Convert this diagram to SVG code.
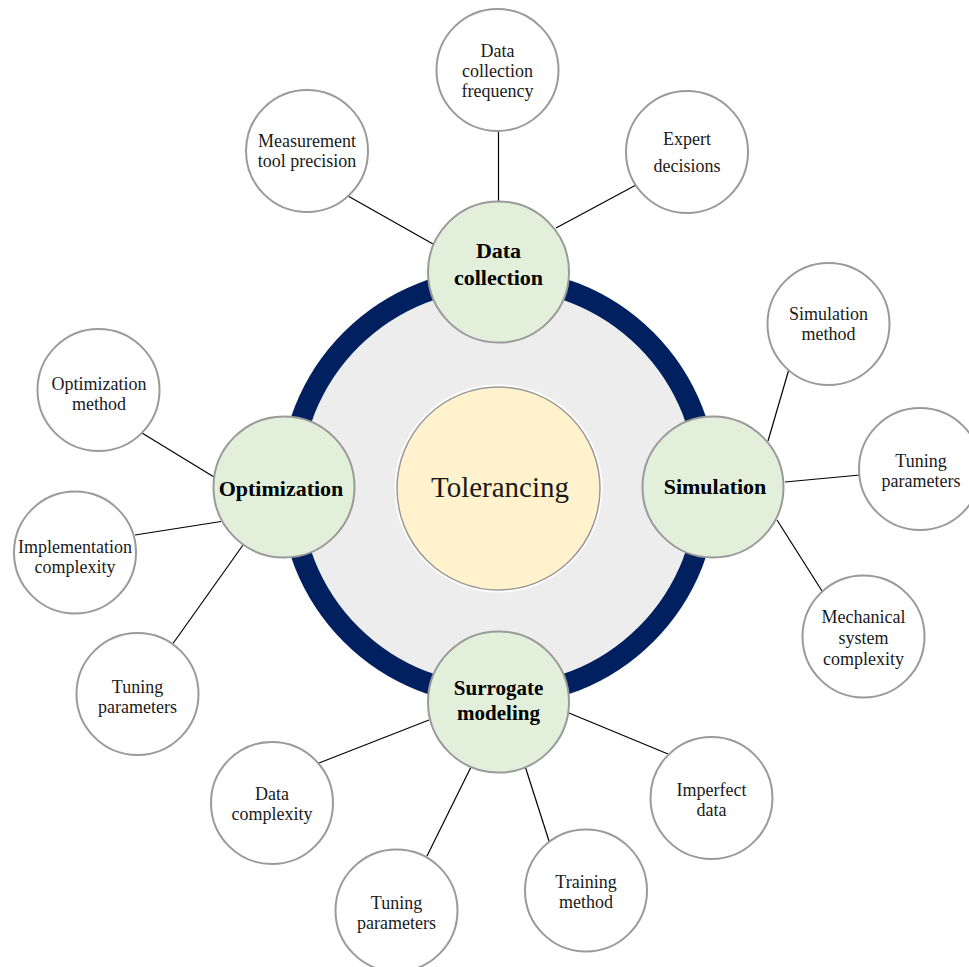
<svg xmlns="http://www.w3.org/2000/svg" width="969" height="967" viewBox="0 0 969 967">
<style>
.bg{fill:#ffffff}
.ring{fill:#EDEDED;stroke:#002060;stroke-width:21}
.center{fill:#FFF2CC;stroke:#9a9a9a;stroke-width:1.5}
.halo{fill:none;stroke:#ffffff;stroke-width:2}
.main{fill:#E2EFDA;stroke:#9a9a9a;stroke-width:2}
.leaf{fill:#ffffff;stroke:#9a9a9a;stroke-width:2}
.conn line{stroke:#000000;stroke-width:1.2}
text{font-family:"Liberation Serif","DejaVu Serif",serif;fill:#1a1a1a;text-anchor:middle}
.lt{font-size:18px}
.bt{font-size:22px;font-weight:bold;fill:#000}
.st{font-size:21px}
.ct{font-size:29px}
</style>
<rect class="bg" x="0" y="0" width="969" height="967"/>
<g id="hub">
<circle class="ring" cx="498.5" cy="487" r="208.5"/>
</g>
<g id="connectors" class="conn">
<line x1="348" y1="196" x2="433" y2="244"/>
<line x1="498.5" y1="131" x2="498.5" y2="201"/>
<line x1="636" y1="185" x2="556" y2="228"/>
<line x1="142" y1="433" x2="214" y2="477"/>
<line x1="135" y1="535" x2="221" y2="521.5"/>
<line x1="173" y1="643.5" x2="243" y2="545"/>
<line x1="789" y1="369" x2="768" y2="441"/>
<line x1="860" y1="475" x2="785" y2="482"/>
<line x1="822" y1="591" x2="777" y2="520"/>
<line x1="319" y1="763" x2="429" y2="720"/>
<line x1="427" y1="856" x2="471" y2="767"/>
<line x1="549" y1="841" x2="525.5" y2="767.5"/>
<line x1="668" y1="754" x2="569" y2="713"/>
</g>
<g id="tolerancing">
<circle class="halo" cx="498.5" cy="488.5" r="103"/>
<circle class="center" cx="498.5" cy="488.5" r="101.5"/>
<text class="ct" x="500" y="497">Tolerancing</text>
</g>
<g id="data-collection">
<circle class="main" cx="498.5" cy="272" r="70.5"/>
<text class="bt" x="498.5" y="258">Data</text>
<text class="bt" x="498.5" y="285">collection</text>
</g>
<g id="optimization">
<circle class="main" cx="284" cy="487" r="70.5"/>
<text class="bt" x="281" y="496">Optimization</text>
</g>
<g id="simulation">
<circle class="main" cx="713" cy="487" r="70.5"/>
<text class="bt" x="715" y="494">Simulation</text>
</g>
<g id="surrogate-modeling">
<circle class="main" cx="498.5" cy="702" r="70.5"/>
<text class="bt st" x="498.5" y="695">Surrogate</text>
<text class="bt st" x="498.5" y="720">modeling</text>
</g>
<g id="data-collection-frequency">
<circle class="leaf" cx="497.5" cy="70" r="61"/>
<text class="lt" x="497.5" y="57">Data</text>
<text class="lt" x="497.5" y="77">collection</text>
<text class="lt" x="497.5" y="97">frequency</text>
</g>
<g id="measurement-tool-precision">
<circle class="leaf" cx="307" cy="151" r="61"/>
<text class="lt" x="307" y="147">Measurement</text>
<text class="lt" x="307" y="167">tool precision</text>
</g>
<g id="expert-decisions">
<circle class="leaf" cx="687" cy="152" r="61"/>
<text class="lt" x="687" y="145">Expert</text>
<text class="lt" x="687" y="172">decisions</text>
</g>
<g id="optimization-method">
<circle class="leaf" cx="98.5" cy="390" r="61"/>
<text class="lt" x="99" y="390">Optimization</text>
<text class="lt" x="99" y="410">method</text>
</g>
<g id="implementation-complexity">
<circle class="leaf" cx="75" cy="552.5" r="61"/>
<text class="lt" x="75" y="553">Implementation</text>
<text class="lt" x="75" y="573">complexity</text>
</g>
<g id="tuning-parameters-optimization">
<circle class="leaf" cx="137.5" cy="694" r="61"/>
<text class="lt" x="137.5" y="693">Tuning</text>
<text class="lt" x="137.5" y="713">parameters</text>
</g>
<g id="simulation-method">
<circle class="leaf" cx="828.5" cy="324" r="61"/>
<text class="lt" x="828.5" y="320">Simulation</text>
<text class="lt" x="828.5" y="340">method</text>
</g>
<g id="tuning-parameters-simulation">
<circle class="leaf" cx="920" cy="469" r="61"/>
<text class="lt" x="921" y="467">Tuning</text>
<text class="lt" x="921" y="487">parameters</text>
</g>
<g id="mechanical-system-complexity">
<circle class="leaf" cx="863.5" cy="636.5" r="61"/>
<text class="lt" x="863.5" y="623">Mechanical</text>
<text class="lt" x="863.5" y="644">system</text>
<text class="lt" x="863.5" y="665">complexity</text>
</g>
<g id="data-complexity">
<circle class="leaf" cx="272" cy="803" r="61"/>
<text class="lt" x="272" y="800">Data</text>
<text class="lt" x="272" y="820">complexity</text>
</g>
<g id="tuning-parameters-surrogate">
<circle class="leaf" cx="396.5" cy="910.5" r="61"/>
<text class="lt" x="396.5" y="909">Tuning</text>
<text class="lt" x="396.5" y="929">parameters</text>
</g>
<g id="training-method">
<circle class="leaf" cx="586" cy="890.5" r="61"/>
<text class="lt" x="586" y="888">Training</text>
<text class="lt" x="586" y="908">method</text>
</g>
<g id="imperfect-data">
<circle class="leaf" cx="711.5" cy="798" r="61"/>
<text class="lt" x="711.5" y="796">Imperfect</text>
<text class="lt" x="711.5" y="816">data</text>
</g>
</svg>
